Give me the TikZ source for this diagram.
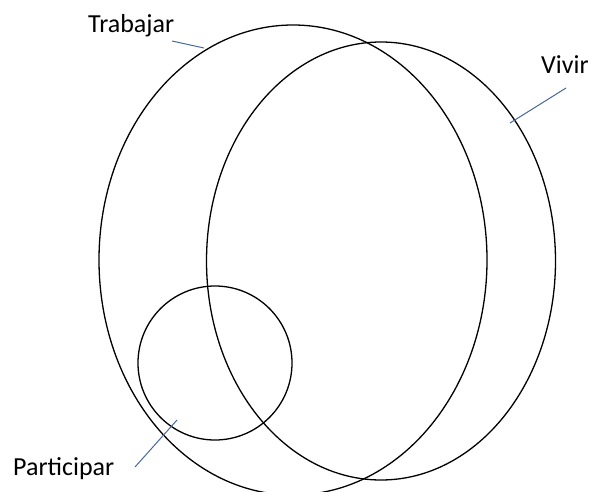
\documentclass[tikz,border=0pt]{standalone}
\usepackage{fontspec}
\setmainfont{Carlito}
\usetikzlibrary{positioning}
\definecolor{leadblue}{RGB}{72,104,160}
\tikzset{setline/.style={draw,line width=1.3pt},
  lbl/.style={font=\fontsize{26}{30}\selectfont,inner sep=0pt,anchor=base west},
  lead/.style={draw=leadblue,line width=1pt}}

\begin{document}
\begin{tikzpicture}[x=1pt,y=-1pt]
\useasboundingbox (0,0) rectangle (591,492);
\clip (0,0) rectangle (591,492);
% sets
\draw[setline] (293,260) circle[x radius=194,y radius=235];
\draw[setline] (381,261) circle[x radius=174.5,y radius=219];
\draw[setline] (215,363) circle[radius=77];
% labels
\node[lbl] (trab) at (88,33) {Trabajar};
\node[lbl] (viv) at (541,74) {Vivir};
\node[lbl] (part) at (13,475) {Participar};
% leaders
\coordinate (trabA) at (172,41);
\coordinate (trabB) at (204,48);
\coordinate (vivA) at (566,88);
\coordinate (vivB) at (510,123);
\coordinate (partA) at (135,467);
\coordinate (partB) at (177,420);
\draw[lead] (trabA) -- (trabB);
\draw[lead] (vivA) -- (vivB);
\draw[lead] (partA) -- (partB);
\end{tikzpicture}
\end{document}
